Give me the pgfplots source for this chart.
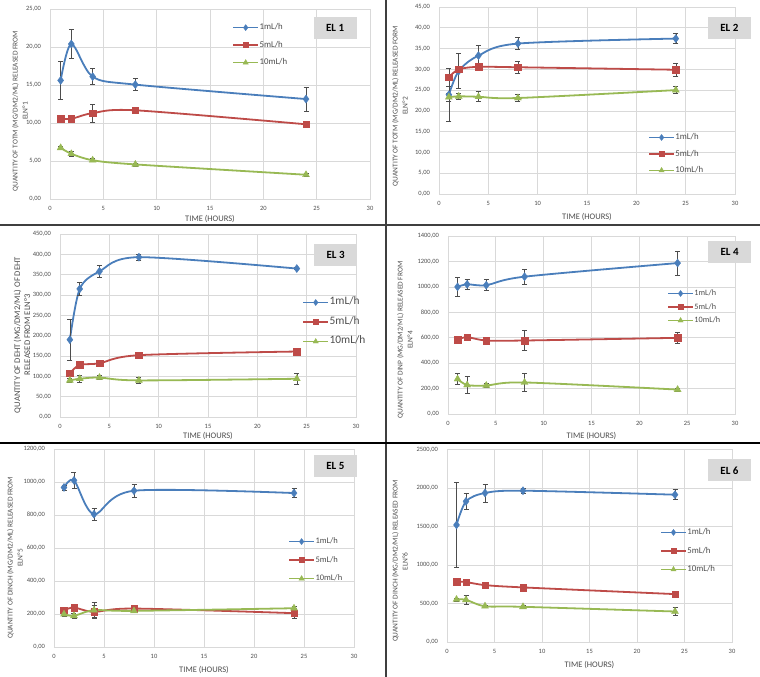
\documentclass[border=0pt]{standalone}
\usepackage{pgfplots}
\pgfplotsset{compat=1.18}
\usepackage{fontspec}
\setmainfont{Carlito}
\definecolor{cblue}{HTML}{4A7EBB}
\definecolor{cred}{HTML}{BE4B48}
\definecolor{cgreen}{HTML}{98B954}
\definecolor{gridc}{HTML}{D9D9D9}
\definecolor{tickc}{HTML}{4D4D4D}
\definecolor{errc}{HTML}{4D4D4D}
\definecolor{elgray}{HTML}{D9D9D9}
\definecolor{sepc}{HTML}{3F3F3F}
\pgfplotsset{
  elaxis/.style={
    scale only axis, xmin=0, xmax=30, xtick={0,5,...,30}, ymin=0, clip=false,
    grid=major, major grid style={draw=gridc, line width=0.7pt},
    axis line style={draw=gridc, line width=0.7pt},
    major tick length=0pt,
    tick label style={font=\fontsize{6.5}{7}\selectfont, text=tickc},
    /pgf/number format/assume math mode=true,
    scaled y ticks=false,
    yticklabel style={anchor=east, xshift=-5.5pt, /pgf/number format/.cd, fixed, fixed zerofill, precision=2, use comma, 1000 sep={}},
    xticklabel style={anchor=center, yshift=-9.5pt},
    xlabel={TIME (HOURS)},
    xlabel style={font=\fontsize{8.5}{9}\selectfont, text=tickc, at={(axis description cs:0.5,0)}, anchor=center},
    ylabel style={font=\fontsize{7.4}{10}\selectfont, text=tickc, align=center, anchor=center},
    legend style={draw=none, fill=none, anchor=west, inner sep=0pt, text=tickc,
      nodes={inner sep=0.5pt, text height=6pt, text depth=1.5pt}},
    legend cell align=left,
    legend image code/.code={\draw[mark repeat=2, mark phase=2, #1, line width=1.8pt, every mark/.append style={scale=0.75}] plot coordinates {(0pt,0pt) (12.5pt,0pt) (25pt,0pt)};},
    every axis plot/.append style={smooth, line width=1.8pt},
  },
  sb/.style={color=cblue, mark=diamond*, mark size=4pt, mark options={line width=0.4pt, solid},
    error bars/.cd, y dir=both, y explicit,
    error bar style={draw=errc, line width=0.6pt},
    error mark options={rotate=90, mark size=2.5pt, draw=errc, line width=0.6pt}},
  sr/.style={color=cred, mark=square*, mark size=3.3pt, mark options={line width=0.4pt, solid},
    error bars/.cd, y dir=both, y explicit,
    error bar style={draw=errc, line width=0.6pt},
    error mark options={rotate=90, mark size=2.5pt, draw=errc, line width=0.6pt}},
  sg/.style={color=cgreen, mark=triangle*, mark size=4pt, mark options={line width=0.4pt, solid},
    error bars/.cd, y dir=both, y explicit,
    error bar style={draw=errc, line width=0.6pt},
    error mark options={rotate=90, mark size=2.5pt, draw=errc, line width=0.6pt}},
}
\newcommand{\elbox}[3]{\node[fill=elgray, minimum width=43pt, minimum height=22pt, inner sep=0pt, font=\fontsize{11}{12}\selectfont\bfseries] at (axis description cs:#1,#2) {#3};}
\begin{document}
\begin{tikzpicture}[x=1pt,y=1pt]
\fill[white] (0,0) rectangle (760,677);
\useasboundingbox (0,0) rectangle (760,677);

% ---------- EL 1 ----------
\begin{axis}[elaxis, at={(50pt,478pt)}, anchor=south west, width=320pt, height=190pt,
  ymax=25, ytick={0,5,...,25},
  ylabel={QUANTITY OF TOTM (MG/DM2/ML) RELEASED FROM\\ELN°1},
  ylabel style={at={(axis description cs:-0.094,0.463)}},
  xlabel style={yshift=-20pt},
  legend style={at={(axis description cs:0.569,0.81)}, row sep=9pt, font=\fontsize{8.8}{9}\selectfont}]
\addplot[sb] coordinates {(1,15.6) +- (0,2.5) (2,20.4) +- (0,1.9) (4,16.1) +- (0,1.05) (8,15.05) +- (0,0.8) (24,13.15) +- (0,1.6)};
\addplot[sr] coordinates {(1,10.58) +- (0,0.1) (2,10.55) +- (0,0.1) (4,11.3) +- (0,1.15) (8,11.67) +- (0,0.2) (24,9.83) +- (0,0.2)};
\addplot[sg] coordinates {(1,6.73) +- (0,0.25) (2,5.95) +- (0,0.3) (4,5.1) +- (0,0.2) (8,4.55) +- (0,0.2) (24,3.19) +- (0,0.2)};
\legend{1mL/h,5mL/h,10mL/h}
\elbox{0.891}{0.9}{EL 1}
\end{axis}

% ---------- EL 2 ----------
\begin{axis}[elaxis, at={(439pt,483pt)}, anchor=south west, width=296pt, height=187pt,
  ymax=45, ytick={0,5,...,45},
  ylabel={QUANTITY OF TOTM (MG/DM2/ML) RELEASED FORM\\ELN°2},
  ylabel style={at={(axis description cs:-0.132,0.47)}},
  xlabel style={yshift=-23pt},
  legend style={at={(axis description cs:0.706,0.214)}, row sep=8pt, font=\fontsize{8.8}{9}\selectfont}]
\addplot[sb] coordinates {(1,23.9) +- (0,6.3) (2,29.6) +- (0,4.2) (4,33.3) +- (0,2.4) (8,36.2) +- (0,1.4) (24,37.4) +- (0,1.2)};
\addplot[sr] coordinates {(1,28.1) +- (0,2.2) (2,30.0) +- (0,0.4) (4,30.6) +- (0,0.3) (8,30.5) +- (0,1.4) (24,29.9) +- (0,1.6)};
\addplot[sg] coordinates {(1,23.3) +- (0,0.9) (2,23.5) +- (0,0.8) (4,23.4) +- (0,1.2) (8,23.1) +- (0,0.8) (24,25.0) +- (0,0.8)};
\legend{1mL/h,5mL/h,10mL/h}
\elbox{0.981}{0.888}{EL 2}
\end{axis}

% ---------- EL 3 ----------
\begin{axis}[elaxis, at={(60pt,260pt)}, anchor=south west, width=296pt, height=183pt,
  ymax=450, ytick={0,50,...,450},
  ylabel={QUANTITY OF DEHT (MG/DM2/ML) OF DEHT\\RELEASED FROM ELN°3},
  ylabel style={at={(axis description cs:-0.128,0.448)}, font=\fontsize{8.6}{10}\selectfont},
  xlabel style={yshift=-19pt},
  legend style={at={(axis description cs:0.818,0.519)}, row sep=11pt, font=\fontsize{11.4}{12}\selectfont}]
\addplot[sb] coordinates {(1,190) +- (0,50) (2,315) +- (0,16) (4,358) +- (0,15) (8,393) +- (0,7) (24,365) +- (0,3)};
\addplot[sr] coordinates {(1,108) +- (0,3) (2,128) +- (0,3) (4,132) +- (0,3) (8,152) +- (0,3) (24,161) +- (0,3)};
\addplot[sg] coordinates {(1,90) +- (0,4) (2,94) +- (0,8) (4,97) +- (0,5) (8,90) +- (0,7) (24,94) +- (0,14)};
\legend{1mL/h,5mL/h,10mL/h}
\elbox{0.931}{0.883}{EL 3}
\end{axis}

% ---------- EL 4 ----------
\begin{axis}[elaxis, at={(448pt,263pt)}, anchor=south west, width=287pt, height=178pt,
  ymax=1400, ytick={0,200,...,1400},
  ylabel={QUANTITY OF DINP (MG/DM2/ML) RELEASED FROM\\ELN°4},
  ylabel style={at={(axis description cs:-0.15,0.416)}},
  xlabel style={yshift=-22pt},
  legend style={at={(axis description cs:0.763,0.601)}, row sep=5pt, font=\fontsize{8.2}{9}\selectfont}]
\addplot[sb] coordinates {(1,1000) +- (0,76) (2,1020) +- (0,38) (4,1013) +- (0,43) (8,1080) +- (0,56) (24,1187) +- (0,93)};
\addplot[sr] coordinates {(1,586) +- (0,15) (2,604) +- (0,15) (4,578) +- (0,10) (8,578) +- (0,80) (24,599) +- (0,40)};
\addplot[sg] coordinates {(1,275) +- (0,43) (2,228) +- (0,65) (4,224) +- (0,15) (8,248) +- (0,70) (24,192) +- (0,10)};
\legend{1mL/h,5mL/h,10mL/h}
\elbox{0.981}{0.91}{EL 4}
\end{axis}

% ---------- EL 5 ----------
\begin{axis}[elaxis, at={(54pt,30pt)}, anchor=south west, width=300pt, height=198pt,
  ymax=1200, ytick={0,200,...,1200},
  ylabel={QUANTITY OF DINCH (MG/DM2/ML) RELEASED FROM\\ELN°5},
  ylabel style={at={(axis description cs:-0.13,0.45)}},
  xlabel style={yshift=-23pt},
  legend style={at={(axis description cs:0.78,0.439)}, row sep=10pt, font=\fontsize{8.5}{9}\selectfont}]
\addplot[sb] coordinates {(1,967) +- (0,15) (2,1010) +- (0,50) (4,805) +- (0,35) (8,947) +- (0,40) (24,933) +- (0,27)};
\addplot[sr] coordinates {(1,223) +- (0,10) (2,239) +- (0,10) (4,213) +- (0,40) (8,233) +- (0,10) (24,205) +- (0,32)};
\addplot[sg] coordinates {(1,199) +- (0,10) (2,189) +- (0,15) (4,223) +- (0,45) (8,219) +- (0,10) (24,235) +- (0,10)};
\legend{1mL/h,5mL/h,10mL/h}
\elbox{0.938}{0.914}{EL 5}
\end{axis}

% ---------- EL 6 ----------
\begin{axis}[elaxis, at={(447pt,35pt)}, anchor=south west, width=285pt, height=192.5pt,
  ymax=2500, ytick={0,500,...,2500},
  ylabel={QUANTITY OF DINCH (MG/DM2/ML) RELEASED FROM\\ELN°6},
  ylabel style={at={(axis description cs:-0.165,0.42)}},
  xlabel style={yshift=-23pt},
  legend style={at={(axis description cs:0.747,0.473)}, row sep=10pt, font=\fontsize{8.8}{9}\selectfont}]
\addplot[sb] coordinates {(1,1520) +- (0,550) (2,1826) +- (0,105) (4,1935) +- (0,115) (8,1965) +- (0,30) (24,1913) +- (0,65)};
\addplot[sr] coordinates {(1,783) +- (0,15) (2,778) +- (0,15) (4,739) +- (0,15) (8,709) +- (0,15) (24,622) +- (0,15)};
\addplot[sg] coordinates {(1,552) +- (0,20) (2,548) +- (0,55) (4,465) +- (0,15) (8,457) +- (0,15) (24,396) +- (0,50)};
\legend{1mL/h,5mL/h,10mL/h}
\elbox{0.991}{0.891}{EL 6}
\end{axis}

% separators
\draw[sepc, line width=1.4pt] (386,0) -- (386,677);
\draw[sepc, line width=1.4pt] (0,452) -- (760,452);
\draw[black, line width=1.6pt] (0,234) -- (760,234);
\end{tikzpicture}
\end{document}
